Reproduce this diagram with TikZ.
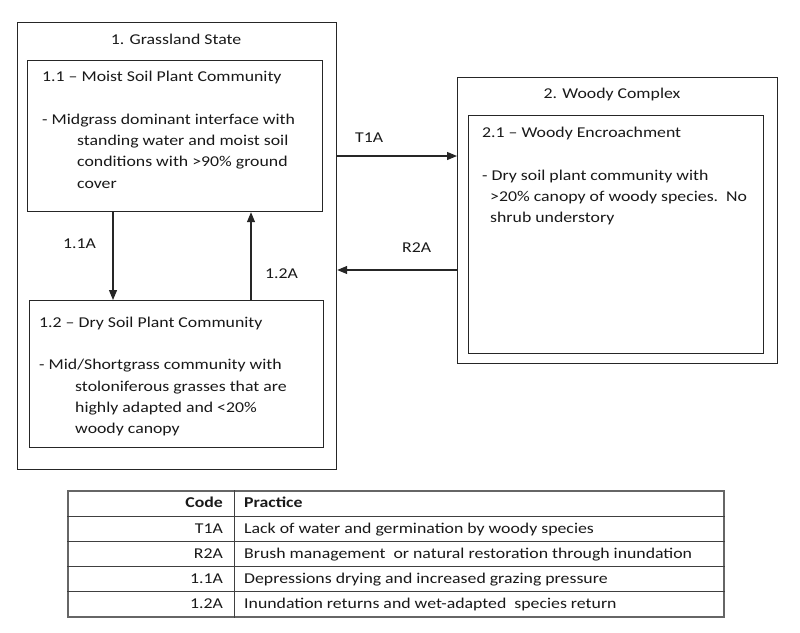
\documentclass[tikz,border=0pt]{standalone}
\usepackage{fontspec}
\setmainfont[FakeStretch=1.185]{Carlito}
\usetikzlibrary{arrows.meta}
\tikzset{
  box/.style={draw=black!85, line width=1.2pt, inner sep=0pt, anchor=north west},
  txt/.style={anchor=base west, inner sep=0pt, font=\fontsize{15}{18}\selectfont, text=black!90},
  ctxt/.style={txt, anchor=base},
  rtxt/.style={txt, anchor=base east},
  arr/.style={draw=black!85, line width=1.2pt, -{Triangle[length=10pt,width=8pt]}},
  tabout/.style={draw=black!60, line width=1.5pt, inner sep=0pt, anchor=north west},
  tabin/.style={draw=black!75, line width=1pt},
}
\begin{document}
\begin{tikzpicture}[x=1pt,y=-1pt]
\useasboundingbox[fill=white] (0,0) rectangle (800,632);
% boxes
\node[box, minimum width=319pt, minimum height=447pt] (g) at (17,22) {};
\node[box, minimum width=295pt, minimum height=151pt] (m11) at (27,60) {};
\node[box, minimum width=294pt, minimum height=147pt] (m12) at (29,300) {};
\node[box, minimum width=320pt, minimum height=286pt] (w) at (457,77) {};
\node[box, minimum width=295pt, minimum height=238pt] (w21) at (468,115) {};
% texts
\node[ctxt] (gt) at (176,44) {1. Grassland State};
\node[txt] (m11t) at (42,81) {1.1 – Moist Soil Plant Community};
\node[txt] (m11a) at (42,124) {- Midgrass dominant interface with};
\node[txt] (m11b) at (77,145) {standing water and moist soil};
\node[txt] (m11c) at (77,166) {conditions with >90\% ground};
\node[txt] (m11d) at (77,188) {cover};
\node[txt] (m12t) at (39,327) {1.2 – Dry Soil Plant Community};
\node[txt] (m12a) at (39,369) {- Mid/Shortgrass community with};
\node[txt] (m12b) at (75,391) {stoloniferous grasses that are};
\node[txt] (m12c) at (75,412) {highly adapted and <20\%};
\node[txt] (m12d) at (75,433) {woody canopy};
\node[ctxt] (wt) at (612,98) {2. Woody Complex};
\node[txt] (w21t) at (482,137) {2.1 – Woody Encroachment};
\node[txt] (w21a) at (482,180) {- Dry soil plant community with};
\node[txt] (w21b) at (490,201) {>20\% canopy of woody species.\ \ No};
\node[txt] (w21c) at (490,222) {shrub understory};
% arrow labels
\node[txt] (lt1a) at (355,142) {T1A};
\node[txt] (lr2a) at (402,252) {R2A};
\node[txt] (l11a) at (63,248) {1.1A};
\node[txt] (l12a) at (265,278) {1.2A};
% connectors
\coordinate (c1) at (113,0);
\coordinate (c2) at (251,0);
\coordinate (r1) at (0,156);
\coordinate (r2) at (0,270);
\draw[arr] (m11.south -| c1) -- (m12.north -| c1);
\draw[arr] (m12.north -| c2) -- (m11.south -| c2);
\draw[arr] (g.east |- r1) -- (w.west |- r1);
\draw[arr] (w.west |- r2) -- (g.east |- r2);
% table
\node[tabout, minimum width=656pt, minimum height=126pt] (tab) at (67,490) {};
\coordinate (tv) at (234,0);
\draw[tabin] (tab.north -| tv) -- (tab.south -| tv);
\foreach \yy in {516,541,566,591}{
  \draw[tabin] (tab.west |- 0,\yy) -- (tab.east |- 0,\yy);
}
\node[rtxt, font=\fontsize{15}{18}\selectfont\bfseries] (h1) at (223,507) {Code};
\node[txt, font=\fontsize{15}{18}\selectfont\bfseries] (h2) at (244,507) {Practice};
\node[rtxt] (k1) at (223,533) {T1A};
\node[txt] (p1) at (244,533) {Lack of water and germination by woody species};
\node[rtxt] (k2) at (223,558) {R2A};
\node[txt] (p2) at (244,558) {Brush management\ \ or natural restoration through inundation};
\node[rtxt] (k3) at (223,583) {1.1A};
\node[txt] (p3) at (244,583) {Depressions drying and increased grazing pressure};
\node[rtxt] (k4) at (223,608) {1.2A};
\node[txt] (p4) at (244,608) {Inundation returns and wet-adapted\ \ species return};
\end{tikzpicture}
\end{document}
